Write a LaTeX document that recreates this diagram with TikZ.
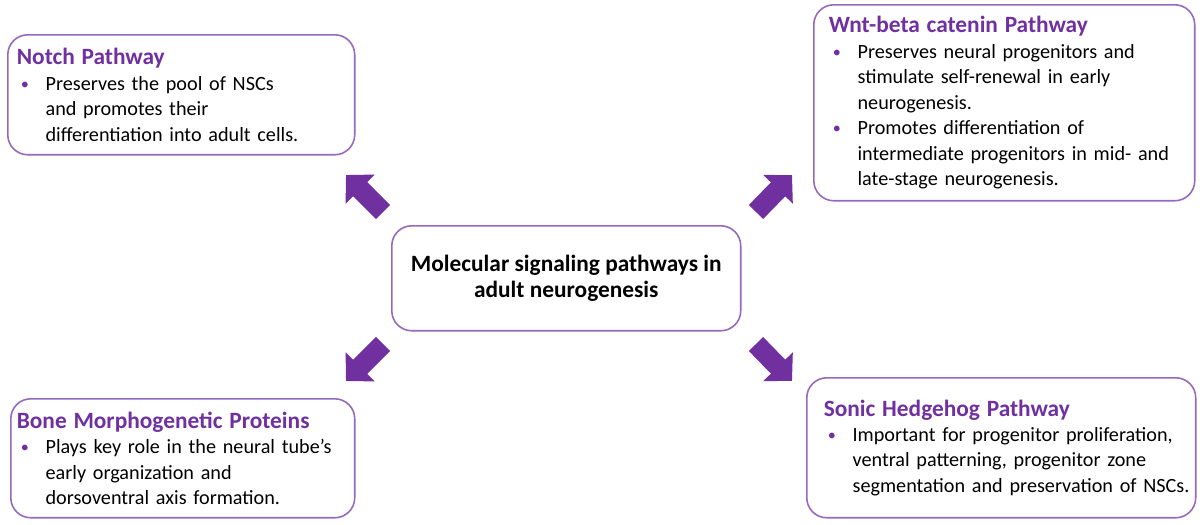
\documentclass[tikz,border=0pt]{standalone}
\usepackage{fontspec}
\usepackage{graphicx}
\setmainfont{Carlito}
\usetikzlibrary{arrows.meta}

\definecolor{pathpurple}{RGB}{112,48,160}
\definecolor{edgepurple}{RGB}{150,105,190}

% bullet line, continuation line and coloured heading for the boxes
\newcommand{\pdot}{\raisebox{0.6pt}{\scalebox{0.8}{\textcolor{pathpurple}{\textbullet}}}}
\newcommand{\pitem}[1]{\mbox{\makebox[16.4pt][l]{\hspace{2.3pt}\pdot}#1}}
\newcommand{\pcont}[1]{\mbox{\hspace*{16.4pt}#1}}
\newcommand{\ptitle}[1]{\mbox{\fontsize{13.3}{14.5}\selectfont\bfseries\color{pathpurple}#1}}

\begin{document}
\begin{tikzpicture}[
	% one unit is one pixel of the reference, y runs downwards
	x=0.02cm, y=-0.02cm
	]
	% Define custom styles to make the code cleaner and more reusable.
	\tikzset{
		pathbox/.style={draw=edgepurple, line width=0.9pt, rounded corners=0.4cm, anchor=north west, align=left, font=\fontsize{11.5}{14.5}\selectfont},
		hubbox/.style={draw=edgepurple, line width=0.9pt, rounded corners=0.4cm, anchor=north west, align=center, font=\fontsize{13.3}{14.5}\selectfont\bfseries},
		fatarrow/.style={draw=pathpurple, line width=0.4cm, -{Triangle[length=0.4cm, width=0.8cm]}}
	}
	\useasboundingbox (0,0) rectangle (1200,524);

	% === NODES ===
	% The hub in the middle and the four pathways around it.

	\node[hubbox, minimum width=6.98cm, minimum height=2.1cm] (hub) at (391,225)
		{Molecular signaling pathways in\\ adult neurogenesis};

	\node[pathbox, minimum height=2.4cm, inner xsep=0.18cm, text width=6.58cm] (notch) at (7,34)
		{\ptitle{Notch Pathway}\\
		\pitem{Preserves the pool of NSCs}\\
		\pcont{and promotes their}\\
		\pcont{differentiation into adult cells.}};

	\node[pathbox, minimum height=3.92cm, inner xsep=0.3cm, text width=7.02cm] (wnt) at (813,4)
		{\ptitle{Wnt-beta catenin Pathway}\\
		\pitem{Preserves neural progenitors and}\\
		\pcont{stimulate self-renewal in early}\\
		\pcont{neurogenesis.}\\
		\pitem{Promotes differentiation of}\\
		\pcont{intermediate progenitors in mid- and}\\
		\pcont{late-stage neurogenesis.}};

	\node[pathbox, minimum height=2.38cm, inner xsep=0.12cm, text width=6.64cm] (bmp) at (10,398)
		{\ptitle{Bone Morphogenetic Proteins}\\
		\pitem{Plays key role in the neural tube’s}\\
		\pcont{early organization and}\\
		\pcont{dorsoventral axis formation.}};

	\node[pathbox, minimum height=2.8cm, inner xsep=0.34cm, text width=7.1cm] (shh) at (806,377)
		{\ptitle{Sonic Hedgehog Pathway}\\
		\pitem{Important for progenitor proliferation,}\\
		\pcont{ventral patterning, progenitor zone}\\
		\pcont{segmentation and preservation of NSCs.}};

	% ends of the block arrows
	\coordinate (nwtail) at (383,212);
	\coordinate (nwtip) at (346,175);
	\coordinate (netail) at (756,212);
	\coordinate (netip) at (792,175);
	\coordinate (swtail) at (383,344);
	\coordinate (swtip) at (346,381);
	\coordinate (setail) at (756,344);
	\coordinate (setip) at (792,381);

	% === CONNECTIONS ===

	\draw[fatarrow] (nwtail) -- (nwtip);
	\draw[fatarrow] (netail) -- (netip);
	\draw[fatarrow] (swtail) -- (swtip);
	\draw[fatarrow] (setail) -- (setip);
\end{tikzpicture}
\end{document}
